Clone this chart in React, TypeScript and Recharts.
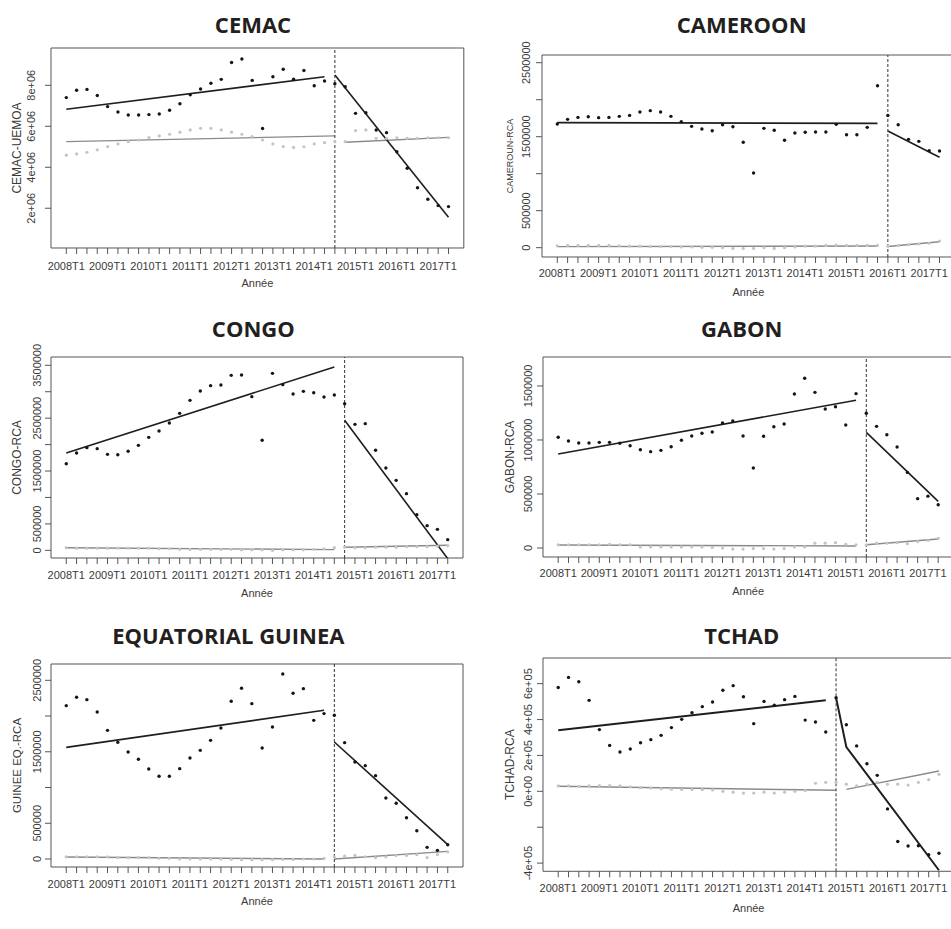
import React from 'react';
import { ComposedChart, Line, Scatter, XAxis, YAxis, ReferenceLine, ReferenceArea } from 'recharts';

// quarters 2008T1 .. 2017T2 (index 0..37), labels every 4th quarter
const QUARTERS = 38;
const quarterLabels = ['2008T1', '2009T1', '2010T1', '2011T1', '2012T1', '2013T1', '2014T1', '2015T1', '2016T1', '2017T1'];

type Fit = [number, number][];

// ---- CEMAC ----
const cemacBlack = [7.40, 7.76, 7.80, 7.50, 6.96, 6.70, 6.55, 6.55, 6.57, 6.60, 6.78, 7.10, 7.54, 7.82, 8.10, 8.29, 9.11, 9.28, 8.24, 5.89, 8.42, 8.78, 8.30, 8.72, 7.98, 8.21, 8.08, 7.93, 6.63, 6.66, 5.82, 5.69, 4.76, 3.95, 3.00, 2.44, 2.13, 2.08].map(v => v * 1e6);
const cemacGrey = [4.59, 4.65, 4.73, 4.85, 5.01, 5.14, 5.25, 5.33, 5.45, 5.53, 5.61, 5.71, 5.82, 5.90, 5.90, 5.82, 5.71, 5.61, 5.50, 5.33, 5.14, 5.01, 4.97, 5.00, 5.14, 5.20, 5.25, 5.25, 5.79, 5.82, 5.41, 5.41, 5.44, 5.41, 5.41, 5.44, 5.44, 5.44].map(v => v * 1e6);
const cemacBlackFits: Fit[] = [[[0, 6.83e6], [25, 8.42e6]], [[26, 8.5e6], [37, 1.56e6]]];
const cemacGreyFits: Fit[] = [[[0, 5.25e6], [26, 5.53e6]], [[27, 5.22e6], [37, 5.46e6]]];
const cemacTicks = [2e6, 4e6, 6e6, 8e6];
const cemacTickLabels = ['2e+06', '4e+06', '6e+06', '8e+06'];

// ---- CAMEROON ----
const cameroonBlack = [1.671, 1.734, 1.761, 1.770, 1.757, 1.761, 1.775, 1.788, 1.833, 1.852, 1.833, 1.775, 1.703, 1.640, 1.604, 1.581, 1.662, 1.635, 1.424, 1.009, 1.613, 1.586, 1.451, 1.550, 1.559, 1.563, 1.563, 1.667, 1.527, 1.527, 1.626, 2.189, 1.788, 1.662, 1.464, 1.437, 1.311, 1.306].map(v => v * 1e6);
const cameroonGrey = [0.025, 0.03, 0.03, 0.03, 0.03, 0.03, 0.025, 0.02, 0.02, 0.015, 0.015, 0.015, 0.01, 0.01, 0.005, 0.005, 0, -0.01, -0.01, -0.01, 0, -0.01, 0, 0.01, 0.02, 0.02, 0.03, 0.035, 0.03, 0.03, 0.03, 0.03, 0.02, 0.03, 0.04, 0.05, 0.06, 0.09].map(v => v * 1e6);
const cameroonBlackFits: Fit[] = [[[0, 1.69e6], [31, 1.68e6]], [[32, 1.577e6], [37, 1.221e6]]];
const cameroonGreyFits: Fit[] = [[[0, 0.014e6], [31, 0.022e6]], [[32, 0.015e6], [37, 0.081e6]]];
const cameroonTicks = [0, 500000, 1000000, 1500000, 2000000, 2500000];
const cameroonTickLabels = ['0', '500000', '', '1500000', '', '2500000'];

// ---- CONGO ----
const congoBlack = [1.639, 1.841, 1.942, 1.923, 1.816, 1.809, 1.873, 1.986, 2.137, 2.257, 2.409, 2.591, 2.837, 3.014, 3.115, 3.127, 3.310, 3.316, 2.907, 2.081, 3.348, 3.134, 2.957, 3.007, 2.982, 2.900, 2.938, 2.774, 2.383, 2.396, 1.892, 1.557, 1.324, 1.072, 0.675, 0.467, 0.397, 0.202].map(v => v * 1e6);
const congoGrey = [0.05, 0.04, 0.04, 0.04, 0.04, 0.04, 0.04, 0.04, 0.04, 0.03, 0.03, 0.02, 0.02, 0.02, 0.02, 0.02, 0.02, 0.01, 0.01, 0.01, 0, 0.01, 0.01, 0.01, 0.02, 0.03, 0.05, 0.06, 0.05, 0.05, 0.06, 0.06, 0.06, 0.07, 0.07, 0.07, 0.08, 0.09].map(v => v * 1e6);
const congoBlackFits: Fit[] = [[[0, 1.841e6], [26, 3.468e6]], [[27, 2.459e6], [37, -0.158e6]]];
const congoGreyFits: Fit[] = [[[0, 0.05e6], [26, 0.013e6]], [[27, 0.057e6], [37, 0.095e6]]];
const congoTicks = [0, 500000, 1000000, 1500000, 2000000, 2500000, 3000000, 3500000];
const congoTickLabels = ['0', '500000', '', '1500000', '', '2500000', '', '3500000'];

// ---- GABON ----
const gabonBlack = [1.025, 0.991, 0.972, 0.972, 0.978, 0.978, 0.970, 0.947, 0.910, 0.892, 0.904, 0.938, 0.997, 1.037, 1.062, 1.074, 1.157, 1.176, 1.037, 0.741, 1.034, 1.123, 1.148, 1.426, 1.571, 1.441, 1.287, 1.308, 1.139, 1.429, 1.247, 1.126, 1.049, 0.935, 0.70, 0.457, 0.48, 0.401].map(v => v * 1e6);
const gabonGrey = [0.03, 0.03, 0.03, 0.03, 0.03, 0.035, 0.03, 0.03, 0.01, 0.01, 0.01, 0.01, 0.01, 0.01, 0.01, 0.005, 0, -0.01, -0.01, -0.005, -0.005, -0.01, -0.005, 0.01, 0.01, 0.045, 0.045, 0.05, 0.035, 0.03, 0.03, 0.045, 0.045, 0.05, 0.04, 0.06, 0.07, 0.09].map(v => v * 1e6);
const gabonBlackFits: Fit[] = [[[0, 0.870e6], [29, 1.367e6]], [[30, 1.071e6], [37, 0.432e6]]];
const gabonGreyFits: Fit[] = [[[0, 0.028e6], [29, 0.019e6]], [[30, 0.031e6], [37, 0.083e6]]];
const gabonTicks = [0, 500000, 1000000, 1500000];
const gabonTickLabels = ['0', '500000', '1000000', '1500000'];

// ---- EQUATORIAL GUINEA ----
const guineaBlack = [2.145, 2.262, 2.229, 2.057, 1.800, 1.632, 1.497, 1.395, 1.259, 1.157, 1.157, 1.264, 1.413, 1.520, 1.660, 1.833, 2.206, 2.388, 2.173, 1.553, 1.847, 2.589, 2.318, 2.383, 1.940, 2.034, 2.010, 1.628, 1.357, 1.306, 1.166, 0.854, 0.78, 0.578, 0.396, 0.163, 0.121, 0.20].map(v => v * 1e6);
const guineaGrey = [0.03, 0.03, 0.03, 0.03, 0.03, 0.02, 0.02, 0.02, 0.02, 0.01, 0.01, 0, 0, 0, 0, 0, -0.005, -0.01, -0.01, -0.01, -0.01, -0.005, -0.005, 0, 0, 0.01, 0.03, 0.04, 0.05, 0.03, 0.02, 0.03, 0.05, 0.05, 0.06, 0.02, 0.06, 0.1].map(v => v * 1e6);
const guineaBlackFits: Fit[] = [[[0, 1.562e6], [25, 2.080e6]], [[26, 1.637e6], [37, 0.200e6]]];
const guineaGreyFits: Fit[] = [[[0, 0.028e6], [25, 0]], [[26, 0], [37, 0.107e6]]];
const guineaTicks = [0, 500000, 1000000, 1500000, 2000000, 2500000];
const guineaTickLabels = ['0', '500000', '', '1500000', '', '2500000'];

// ---- TCHAD ----
const tchadBlack = [5.79, 6.35, 6.11, 5.07, 3.44, 2.56, 2.19, 2.36, 2.71, 2.88, 3.12, 3.55, 4.01, 4.38, 4.72, 4.98, 5.63, 5.89, 5.27, 3.77, 5.01, 4.80, 5.11, 5.29, 3.97, 3.86, 3.31, 5.22, 3.71, 2.53, 1.54, 0.89, -0.98, -2.80, -3.05, -3.03, -3.53, -3.45].map(v => v * 1e5);
const tchadGrey = [0.30, 0.30, 0.28, 0.30, 0.32, 0.32, 0.30, 0.25, 0.20, 0.18, 0.15, 0.12, 0.10, 0.10, 0.10, 0.08, 0, -0.05, -0.1, -0.1, -0.05, -0.1, -0.05, 0, 0.05, 0.45, 0.5, 0.5, 0.4, 0.3, 0.4, 0.5, 0.4, 0.4, 0.35, 0.5, 0.65, 0.95].map(v => v * 1e5);
const tchadBlackFits: Fit[] = [[[0, 3.40e5], [26, 5.07e5]], [[27, 5.22e5], [28, 2.47e5], [37, -4.40e5]]];
const tchadGreyFits: Fit[] = [[[0, 0.28e5], [27, 0.06e5]], [[28, 0.11e5], [37, 1.13e5]]];
const tchadTicks = [-4e5, -2e5, 0, 2e5, 4e5, 6e5];
const tchadTickLabels = ['-4e+05', '', '0e+00', '2e+05', '4e+05', '6e+05'];

const X_MIN = -1.48;
const X_MAX = 38.48;
const PAD_L = 50;
const PAD_T = 30;
const PAD_R = 5;
const AXIS_H = 50;
const AXIS_FONT = '"Liberation Sans", Arial, sans-serif';
const TEXT_COLOR = '#3a3a3a';

const panels = [
  {
    title: 'CEMAC', yTitle: 'CEMAC-UEMOA', black: cemacBlack, grey: cemacGrey,
    blackFits: cemacBlackFits, greyFits: cemacGreyFits, breakAt: 26,
    yDomain: [0.06e6, 9.82e6], yTicks: cemacTicks, yTickLabels: cemacTickLabels,
    box: [51.4, 48, 464.2, 248], titleX: 253, titleY: 25,
    labelGap: 20, titleGap: 34, yTitleSize: 12, xLabelGap: 18.5, xTitleGap: 35, blackWidth: 1.6,
  },
  {
    title: 'CAMEROON', yTitle: 'CAMEROUN-RCA', black: cameroonBlack, grey: cameroonGrey,
    blackFits: cameroonBlackFits, greyFits: cameroonGreyFits, breakAt: 32,
    yDomain: [-0.126e6, 2.604e6], yTicks: cameroonTicks, yTickLabels: cameroonTickLabels,
    box: [542.4, 55, 955.2, 257], titleX: 741.7, titleY: 25,
    labelGap: 15.7, titleGap: 32, yTitleSize: 9, xLabelGap: 16.3, xTitleGap: 34.7, blackWidth: 1.6,
  },
  {
    title: 'CONGO', yTitle: 'CONGO-RCA', black: congoBlack, grey: congoGrey,
    blackFits: congoBlackFits, greyFits: congoGreyFits, breakAt: 27,
    yDomain: [-0.145e6, 3.657e6], yTicks: congoTicks, yTickLabels: congoTickLabels,
    box: [51.4, 356.7, 463.4, 557.7], titleX: 253.3, titleY: 328.3,
    labelGap: 13.7, titleGap: 33.7, yTitleSize: 12, xLabelGap: 17.3, xTitleGap: 35.6, blackWidth: 1.6,
  },
  {
    title: 'GABON', yTitle: 'GABON-RCA', black: gabonBlack, grey: gabonGrey,
    blackFits: gabonBlackFits, greyFits: gabonGreyFits, breakAt: 30,
    yDomain: [-0.083e6, 1.768e6], yTicks: gabonTicks, yTickLabels: gabonTickLabels,
    box: [543.1, 357.3, 953.5, 557.3], titleX: 741.7, titleY: 328.3,
    labelGap: 14.4, titleGap: 32.7, yTitleSize: 12, xLabelGap: 16, xTitleGap: 33.7, blackWidth: 1.6,
  },
  {
    title: 'EQUATORIAL GUINEA', yTitle: 'GUINEE EQ.-RCA', black: guineaBlack, grey: guineaGrey,
    blackFits: guineaBlackFits, greyFits: guineaGreyFits, breakAt: 26,
    yDomain: [-0.112e6, 2.728e6], yTicks: guineaTicks, yTickLabels: guineaTickLabels,
    box: [51.4, 664.3, 463.4, 867.3], titleX: 228.3, titleY: 636,
    labelGap: 14, titleGap: 34, yTitleSize: 11.5, xLabelGap: 16.7, xTitleGap: 34.4, blackWidth: 1.6,
  },
  {
    title: 'TCHAD', yTitle: 'TCHAD-RCA', black: tchadBlack, grey: tchadGrey,
    blackFits: tchadBlackFits, greyFits: tchadGreyFits, breakAt: 27,
    yDomain: [-4.457e5, 7.43e5], yTicks: tchadTicks, yTickLabels: tchadTickLabels,
    box: [543.1, 657.7, 954.3, 871], titleX: 741.7, titleY: 636,
    labelGap: 15, titleGap: 33, yTitleSize: 12, xLabelGap: 17.3, xTitleGap: 37.3, blackWidth: 2,
  },
];

type PanelSpec = typeof panels[number];

function buildRows(p: PanelSpec) {
  const rows: any[] = [];
  for (let i = 0; i < QUARTERS; i++) rows.push({ i, b: p.black[i], g: p.grey[i] });
  p.blackFits.forEach((f, k) => f.forEach(([i, v]) => { rows[i]['bf' + k] = v; }));
  p.greyFits.forEach((f, k) => f.forEach(([i, v]) => { rows[i]['gf' + k] = v; }));
  return rows;
}

const XTick = (props: any) => {
  const { x, payload, baseY } = props;
  const v = payload.value;
  if (v % 4 !== 0) return <g />;
  return (
    <text x={x} y={baseY} dy="0.35em" textAnchor="middle" fontSize={11} fill={TEXT_COLOR} fontFamily={AXIS_FONT}>
      {quarterLabels[v / 4]}
    </text>
  );
};

const YTick = (props: any) => {
  const { y, payload, cx, ticks, labels } = props;
  const txt = labels[ticks.indexOf(payload.value)];
  if (!txt) return <g />;
  return (
    <text x={cx} y={y} dy="0.35em" textAnchor="middle" transform={`rotate(-90 ${cx} ${y})`}
      fontSize={11} fill={TEXT_COLOR} fontFamily={AXIS_FONT}>
      {txt}
    </text>
  );
};

const AxisTitle = (props: any) => {
  const { tx, ty, text, size, rotate } = props;
  return (
    <text x={tx} y={ty} dy="0.35em" textAnchor="middle" transform={rotate ? `rotate(-90 ${tx} ${ty})` : undefined}
      fontSize={size} fill={TEXT_COLOR} fontFamily={AXIS_FONT}>
      {text}
    </text>
  );
};

const blackDot = (props: any) => <circle cx={props.cx} cy={props.cy} r={1.7} fill="#151515" />;
const greyDot = (props: any) => <circle cx={props.cx} cy={props.cy} r={1.6} fill="#c4c4c4" />;

function Panel({ p }: { p: PanelSpec }) {
  const [left, top, right, bottom] = p.box;
  const boxW = right - left;
  const boxH = bottom - top;
  const W = boxW + PAD_L + PAD_R;
  const H = boxH + PAD_T + AXIS_H;
  const rows = buildRows(p);
  const plotBottom = PAD_T + boxH;
  const xTicks = rows.map(r => r.i);
  return (
    <>
      <div style={{
        position: 'absolute', left: p.titleX - 200, top: p.titleY - 15.6, width: 400, textAlign: 'center',
        fontFamily: '"Open Sans", sans-serif', fontWeight: 700, fontSize: 22, lineHeight: '30px', color: '#231f20',
      }}>
        {p.title}
      </div>
      <div style={{ position: 'absolute', left: left - PAD_L, top: top - PAD_T }}>
        <ComposedChart width={W} height={H} data={rows} margin={{ top: PAD_T, right: PAD_R, bottom: 0, left: 0 }}>
          <XAxis
            type="number" dataKey="i" domain={[X_MIN, X_MAX]} allowDataOverflow ticks={xTicks} interval={0}
            height={AXIS_H} axisLine={false} tickSize={6} tickLine={{ stroke: '#555' }}
            tick={<XTick baseY={plotBottom + p.xLabelGap} />}
            label={<AxisTitle tx={PAD_L + boxW / 2} ty={plotBottom + p.xTitleGap} text="Année" size={11} />}
          />
          <YAxis
            type="number" domain={p.yDomain} allowDataOverflow ticks={p.yTicks} interval={0}
            width={PAD_L} axisLine={false} tickSize={6} tickLine={{ stroke: '#555' }}
            tick={<YTick cx={PAD_L - p.labelGap} ticks={p.yTicks} labels={p.yTickLabels} />}
            label={<AxisTitle tx={PAD_L - p.titleGap} ty={PAD_T + boxH / 2} text={p.yTitle} size={p.yTitleSize} rotate />}
          />
          <ReferenceArea x1={X_MIN} x2={X_MAX} y1={p.yDomain[0]} y2={p.yDomain[1]} fill="none" stroke="#555" strokeWidth={1} ifOverflow="visible" />
          <Scatter data={rows.filter(r => r.g != null)} dataKey="g" shape={greyDot} isAnimationActive={false} />
          <Scatter data={rows.filter(r => r.b != null)} dataKey="b" shape={blackDot} isAnimationActive={false} />
          {p.greyFits.map((_, k) => (
            <Line key={'g' + k} dataKey={'gf' + k} type="linear" stroke="#8a8a8a" strokeWidth={1.4} dot={false}
              activeDot={false} connectNulls isAnimationActive={false} />
          ))}
          {p.blackFits.map((_, k) => (
            <Line key={'b' + k} dataKey={'bf' + k} type="linear" stroke="#1e1e1e" strokeWidth={p.blackWidth} dot={false}
              activeDot={false} connectNulls isAnimationActive={false} />
          ))}
          <ReferenceLine x={p.breakAt} stroke="#333" strokeWidth={1} strokeDasharray="3 2" />
        </ComposedChart>
      </div>
    </>
  );
}

export default function App() {
  return (
    <div style={{ position: 'absolute', left: 0, top: 0, width: 951, height: 929, overflow: 'hidden', background: '#fff' }}>
      {panels.map(p => <Panel key={p.title} p={p} />)}
    </div>
  );
}
